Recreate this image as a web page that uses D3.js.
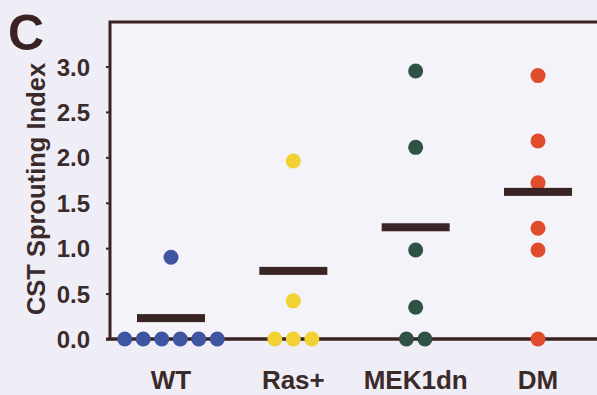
<!DOCTYPE html>
<html>
<head>
<meta charset="utf-8">
<script src="https://cdn.jsdelivr.net/npm/d3@7"></script>
<style>
  html, body { margin: 0; padding: 0; background: #efeef7; }
  svg { display: block; font-family: "Liberation Sans", Arial, sans-serif; font-weight: bold; }
</style>
</head>
<body>
<div id="chart"></div>
<script>
// groups on the x axis
const groups = ["WT", "Ras+", "MEK1dn", "DM"];
const groupColors = ["#3f55a2", "#f1d232", "#2f5245", "#e14d2c"];

// individual sprouting index values per group
const wtValues = [0, 0, 0, 0, 0, 0, 0.9];
const rasValues = [0, 0, 0, 0.42, 1.96];
const mekValues = [0, 0, 0.35, 0.98, 2.11, 2.95];
const dmValues = [0, 0.98, 1.22, 1.72, 2.18, 2.9];

// mean bars as drawn
const means = [0.23, 0.75, 1.23, 1.62];

const yTicks = [0, 0.5, 1, 1.5, 2, 2.5, 3];

const width = 597, height = 395;
const margin = {top: 22, right: 0, bottom: 56, left: 110};

const svg = d3.select("#chart").append("svg")
    .attr("width", width)
    .attr("height", height);

const x = d3.scalePoint()
    .domain(groups)
    .range([171, 538]);

const y = d3.scaleLinear()
    .domain([0, 3.49])
    .range([height - margin.bottom, margin.top]);

const color = d3.scaleOrdinal().domain(groups).range(groupColors);

const dotR = 7.5;
const dotStep = 18.5;

// plot frame
svg.append("rect")
    .attr("x", margin.left)
    .attr("y", margin.top)
    .attr("width", width - margin.left + 2)
    .attr("height", y(0) - margin.top)
    .attr("fill", "#f4f3fa")
    .attr("stroke", "#3b2222")
    .attr("stroke-width", 3);

// y axis
const yAxis = svg.append("g")
    .attr("transform", `translate(${margin.left},0)`)
    .call(d3.axisLeft(y).tickValues(yTicks).tickFormat(d3.format(".1f")).tickSize(4).tickPadding(16));
yAxis.select(".domain").remove();
yAxis.selectAll(".tick line").attr("stroke", "#3b2222").attr("stroke-width", 2);
yAxis.selectAll(".tick text")
    .attr("fill", "#3b2a2a")
    .attr("font-size", 24)
    .attr("font-weight", "bold")
    .attr("font-family", "Liberation Sans, Arial, sans-serif")
    .attr("dy", "0.36em");

// y title
svg.append("text")
    .attr("transform", `translate(45,189) rotate(-90)`)
    .attr("text-anchor", "middle")
    .attr("font-size", 25.5)
    .attr("fill", "#3b2a2a")
    .text("CST Sprouting Index");

// panel letter
svg.append("text")
    .attr("x", 8)
    .attr("y", 50)
    .attr("font-size", 50)
    .attr("fill", "#3b2222")
    .text("C");

// x labels
svg.append("g").selectAll("text")
    .data(groups)
    .join("text")
    .attr("x", d => x(d))
    .attr("y", 389)
    .attr("text-anchor", "middle")
    .attr("font-size", 26)
    .attr("fill", "#3b2a2a")
    .text(d => d);

// points: spread equal values side by side
const series = [wtValues, rasValues, mekValues, dmValues];
const points = [];
series.forEach((vals, gi) => {
    const byVal = d3.group(vals, v => v);
    byVal.forEach((arr, v) => {
        arr.forEach((_, k) => {
            points.push({group: groups[gi], value: v, offset: k - (arr.length - 1) / 2});
        });
    });
});

// bottom axis line drawn under dots
svg.append("line")
    .attr("x1", margin.left - 4)
    .attr("x2", width)
    .attr("y1", y(0))
    .attr("y2", y(0))
    .attr("stroke", "#3b2222")
    .attr("stroke-width", 3);

svg.append("g").selectAll("circle")
    .data(points)
    .join("circle")
    .attr("cx", d => x(d.group) + d.offset * dotStep)
    .attr("cy", d => y(d.value))
    .attr("r", dotR)
    .attr("fill", d => color(d.group));

// mean bars
svg.append("g").selectAll("rect")
    .data(means)
    .join("rect")
    .attr("x", (d, i) => x(groups[i]) - 34)
    .attr("y", d => y(d) - 4)
    .attr("width", 68)
    .attr("height", 8)
    .attr("fill", "#3a2323");
</script>
</body>
</html>
